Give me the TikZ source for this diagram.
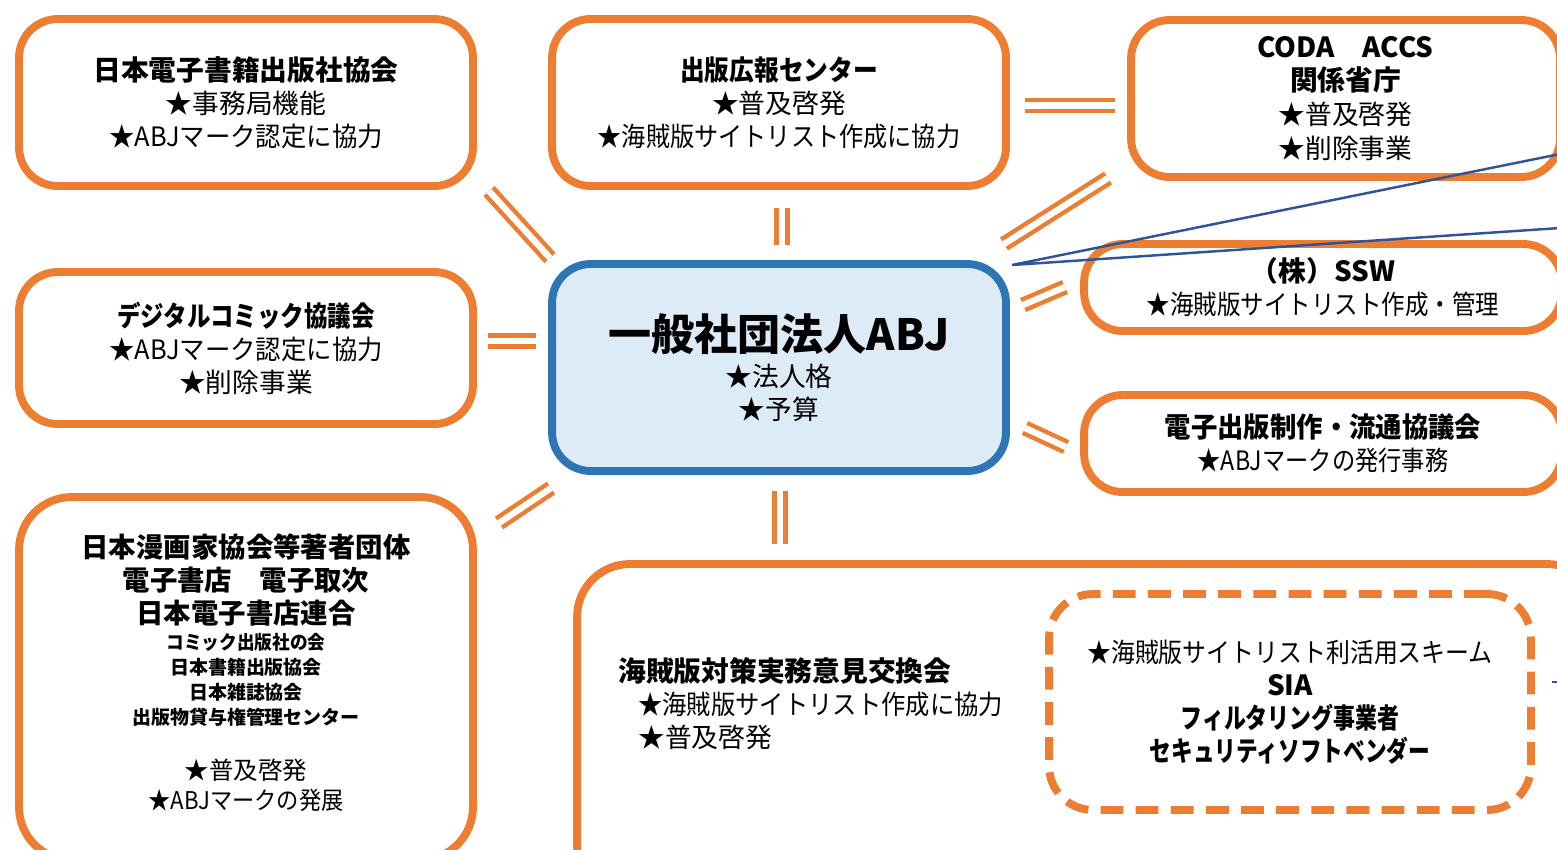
\documentclass[tikz,border=0pt]{standalone}
\usepackage{fontspec}
\setmainfont{Noto Sans CJK JP}
\definecolor{abjorange}{HTML}{ED7D31}
\definecolor{abjblue}{HTML}{2E75B6}
\definecolor{abjfill}{HTML}{DDEBF7}
\definecolor{linkblue}{HTML}{2F5597}
\newcommand\abjItem{\fontsize{15.2}{18.8}\selectfont}
\newcommand\abjTitle{\fontsize{15.8}{18.8}\selectfont\bfseries}
\newcommand\abjX[2]{\scalebox{#1}[1]{#2}}
\tikzset{
  orgbox/.style={draw=abjorange, line width=4.5pt, rounded corners=22pt, fill=white,
    align=center, inner sep=0pt, font=\abjItem, text=black},
  mainbox/.style={draw=abjblue, line width=4.5pt, rounded corners=22pt, fill=abjfill,
    align=center, inner sep=0pt, font=\abjItem, text=black},
  dashbox/.style={draw=abjorange, line width=4.5pt, rounded corners=25pt,
    dash pattern=on 13pt off 7pt, align=center, inner sep=0pt, font=\abjItem, text=black},
  txt/.style={align=center, inner sep=0pt, text=black},
  dbl/.style={draw=abjorange, line width=2.5pt, double=white, double distance=3.6pt},
  callout/.style={draw=linkblue, line width=1.4pt}
}
\begin{document}
\begin{tikzpicture}[x=0.02cm, y=-0.02cm]
\useasboundingbox (0,0) rectangle (1557,849);
\fill[white] (0,0) rectangle (1557,849);
\clip (0,0) rectangle (1557,849);

% boxes
\node[orgbox, minimum width=9.08cm, minimum height=3.34cm] (jepa) at (246,102.5)
  {{\abjTitle 日本電子書籍出版社協会}\\★事務局機能\\\abjX{0.95}{★ABJマーク認定に協力}};
\node[orgbox, minimum width=9.08cm, minimum height=3.34cm] (koho) at (779,102.5)
  {{\abjTitle\abjX{0.89}{出版広報センター}}\\★普及啓発\\\abjX{0.905}{★海賊版サイトリスト作成に協力}};
\node[orgbox, minimum width=8.58cm, minimum height=3.14cm, font={\fontsize{15.2}{19.3}\selectfont}] (coda) at (1345.5,98.5)
  {{\abjTitle CODA　ACCS}\\{\abjTitle 関係省庁}\\★普及啓発\\★削除事業};
\node[orgbox, minimum width=9.08cm, minimum height=3.04cm] (dcc) at (246,348)
  {{\abjTitle\abjX{0.845}{デジタルコミック協議会}}\\\abjX{0.95}{★ABJマーク認定に協力}\\★削除事業};
\node[mainbox, minimum width=9.08cm, minimum height=4.14cm] (abj) at (779,367.5)
  {{\fontsize{24.5}{28}\selectfont\bfseries 一般社団法人ABJ}\\[1.5pt]★法人格\\★予算};
\node[orgbox, minimum width=9.56cm, minimum height=1.74cm] (ssw) at (1323,287.5)
  {{\abjTitle （株）SSW}\\\abjX{0.88}{★海賊版サイトリスト作成・管理}};
\node[orgbox, minimum width=9.56cm, minimum height=1.94cm] (epcd) at (1323,443.5)
  {{\abjTitle\abjX{0.95}{電子出版制作・流通協議会}}\\\abjX{0.87}{★ABJマークの発行事務}};
\node[orgbox, rounded corners=30pt, minimum width=9.08cm, minimum height=7.26cm] (auth) at (246,678.5) {};
\node[orgbox, rounded corners=30pt, minimum width=20.46cm, minimum height=6.72cm] (kaigi) at (1088.5,732) {};
\node[dashbox, minimum width=9.64cm, minimum height=4.32cm] (sia) at (1290,702)
  {\abjX{0.895}{★海賊版サイトリスト利活用スキーム}\\{\abjTitle SIA}\\{\abjTitle\abjX{0.79}{フィルタリング事業者}}\\{\abjTitle\abjX{0.78}{セキュリティソフトベンダー}}};

% texts inside the bottom boxes
\node[txt, font={\fontsize{15.6}{18.8}\selectfont\bfseries}] (authA) at (246,580)
  {日本漫画家協会等著者団体\\電子書店　電子取次\\日本電子書店連合};
\node[txt, font={\fontsize{10.8}{14.2}\selectfont\bfseries}] (authB) at (246,679.5)
  {\abjX{0.93}{コミック出版社の会}\\日本書籍出版協会\\日本雑誌協会\\出版物貸与権管理センター};
\node[txt, font={\fontsize{13.9}{17}\selectfont}] (authC) at (246,785)
  {★普及啓発\\\abjX{0.91}{★ABJマークの発展}};
\node[txt, align=left, anchor=west, font=\abjItem] (kaigiT) at (618,704)
  {{\abjTitle 海賊版対策実務意見交換会}\\\hspace*{0.75em}\abjX{0.91}{★海賊版サイトリスト作成に協力}\\\hspace*{0.75em}★普及啓発};

% double-line connectors
\coordinate (c1a) at (489,191);  \coordinate (c1b) at (550,258);
\coordinate (c2a) at (782,208);  \coordinate (c2b) at (782,245);
\coordinate (c3a) at (1004,244); \coordinate (c3b) at (1108,178);
\coordinate (c4a) at (1025,105.5); \coordinate (c4b) at (1115,105.5);
\coordinate (c5a) at (488,341);  \coordinate (c5b) at (536,341);
\coordinate (c6a) at (1023,305); \coordinate (c6b) at (1065,287);
\coordinate (c7a) at (1025,428); \coordinate (c7b) at (1066,447);
\coordinate (c8a) at (499,523);  \coordinate (c8b) at (551,488);
\coordinate (c9a) at (780,491);  \coordinate (c9b) at (780,544);
\draw[dbl] (c1a) -- (c1b);
\draw[dbl] (c2a) -- (c2b);
\draw[dbl] (c3a) -- (c3b);
\draw[dbl] (c4a) -- (c4b);
\draw[dbl] (c5a) -- (c5b);
\draw[dbl] (c6a) -- (c6b);
\draw[dbl] (c7a) -- (c7b);
\draw[dbl] (c8a) -- (c8b);
\draw[dbl] (c9a) -- (c9b);

% blue callout lines running off the right edge
\coordinate (cp) at (1012,265);
\coordinate (ce1) at (1560,154);
\coordinate (ce2) at (1560,228);
\draw[callout] (ce1) -- (cp) -- (ce2);
\coordinate (cs1) at (1552,682);
\coordinate (cs2) at (1560,682);
\draw[callout] (cs1) -- (cs2);
\end{tikzpicture}
\end{document}
